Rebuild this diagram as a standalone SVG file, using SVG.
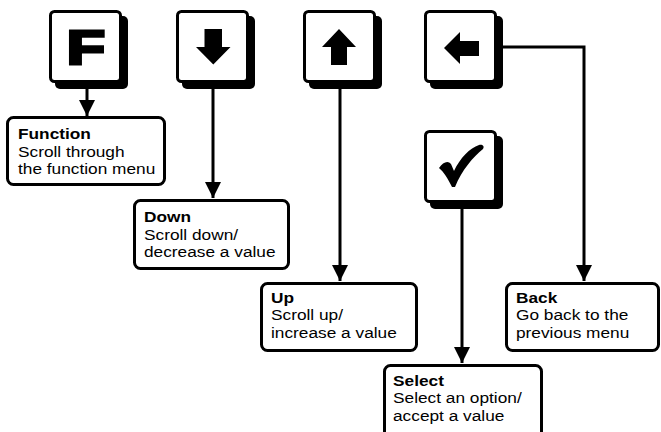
<svg xmlns="http://www.w3.org/2000/svg" width="661" height="432" viewBox="0 0 661 432">
<style>
.shadow{fill:#000}
.key{fill:#fff;stroke:#000;stroke-width:3}
.icon{fill:#000}
.box{fill:#fff;stroke:#000;stroke-width:3}
.conn{fill:none;stroke:#000;stroke-width:3}
text{font-family:"Liberation Sans",Arial,Helvetica,sans-serif;font-size:15.5px;fill:#000}
.t{font-weight:bold}
</style>
<defs>
<marker id="ah" markerUnits="userSpaceOnUse" markerWidth="16" markerHeight="18" viewBox="0 0 16 18" refX="16" refY="8" orient="auto">
<path d="M0,0 L16,8 L0,16 Z" fill="#000"/>
</marker>
</defs>
<rect width="661" height="432" fill="#fff"/>

<g id="connectors">
<line class="conn" x1="87" y1="88" x2="87" y2="116" marker-end="url(#ah)"/>
<line class="conn" x1="213" y1="88" x2="213" y2="198" marker-end="url(#ah)"/>
<line class="conn" x1="340" y1="88" x2="340" y2="281" marker-end="url(#ah)"/>
<line class="conn" x1="462" y1="208" x2="462" y2="363" marker-end="url(#ah)"/>
<polyline class="conn" points="503,47 584,47 584,281" marker-end="url(#ah)"/>
</g>

<g id="key-function">
<rect class="shadow" x="55" y="16" width="73" height="73" rx="5"/>
<rect class="key" x="50.5" y="11.5" width="70" height="70" rx="4"/>
<g transform="translate(86,63.5) scale(1.32,1)">
<text x="0" y="0" text-anchor="middle" style="font-size:47.5px;font-weight:bold;stroke:#000;stroke-width:3;stroke-linejoin:miter">F</text>
</g>
</g>

<g id="key-down">
<rect class="shadow" x="182" y="16" width="73" height="73" rx="5"/>
<rect class="key" x="177.5" y="11.5" width="70" height="70" rx="4"/>
<polygon class="icon" points="204.5,29 222,29 222,47 230.5,47 213.3,64.5 196,47 204.5,47"/>
</g>

<g id="key-up">
<rect class="shadow" x="309" y="16" width="73" height="73" rx="5"/>
<rect class="key" x="304.5" y="11.5" width="70" height="70" rx="4"/>
<polygon class="icon" points="339,29 356,47 347,47 347,65 331,65 331,47 322,47"/>
</g>

<g id="key-back">
<rect class="shadow" x="430" y="16" width="73" height="73" rx="5"/>
<rect class="key" x="425.5" y="11.5" width="70" height="70" rx="4"/>
<polygon class="icon" points="444,48 460,32 460,41 479,41 479,56 460,56 460,64"/>
</g>

<g id="key-select">
<rect class="shadow" x="430" y="136" width="73" height="73" rx="5"/>
<rect class="key" x="425.5" y="131.5" width="70" height="70" rx="4"/>
<path class="icon" d="M439,168 C443,162 448,160 451,164 L454,171 C460,158 470,148 479,145 C482,144 485,146 483,149 C473,157 462,170 455,187 L452,187 C448,179 444,172 439,168 Z"/>
</g>

<g id="box-function">
<rect class="box" x="7.5" y="117.5" width="157" height="67" rx="6"/>
<g transform="translate(18,0) scale(1.115,1)">
<text class="t" x="0" y="139.5">Function</text>
<text x="0" y="157">Scroll through</text>
<text x="0" y="174.5">the function menu</text>
</g>
</g>

<g id="box-down">
<rect class="box" x="134.5" y="200.5" width="154" height="68" rx="6"/>
<g transform="translate(144,0) scale(1.115,1)">
<text class="t" x="0" y="222.5">Down</text>
<text x="0" y="240">Scroll down/</text>
<text x="0" y="257.5">decrease a value</text>
</g>
</g>

<g id="box-up">
<rect class="box" x="261.5" y="283.5" width="155" height="67" rx="6"/>
<g transform="translate(271,0) scale(1.115,1)">
<text class="t" x="0" y="303">Up</text>
<text x="0" y="320.5">Scroll up/</text>
<text x="0" y="338">increase a value</text>
</g>
</g>

<g id="box-back">
<rect class="box" x="506.5" y="283.5" width="152" height="67" rx="6"/>
<g transform="translate(516,0) scale(1.115,1)">
<text class="t" x="0" y="303">Back</text>
<text x="0" y="320.5">Go back to the</text>
<text x="0" y="338">previous menu</text>
</g>
</g>

<g id="box-select">
<rect class="box" x="384.5" y="365.5" width="157" height="75" rx="6"/>
<g transform="translate(393,0) scale(1.115,1)">
<text class="t" x="0" y="386">Select</text>
<text x="0" y="403.5">Select an option/</text>
<text x="0" y="421">accept a value</text>
</g>
</g>
</svg>
